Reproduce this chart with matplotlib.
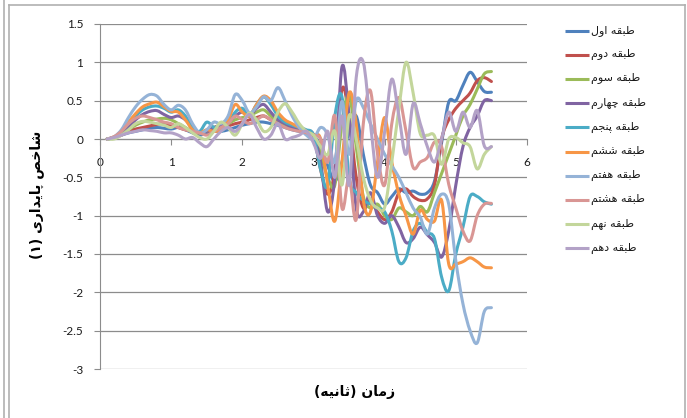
import numpy as np
import matplotlib
matplotlib.use("Agg")
import matplotlib.pyplot as plt
from matplotlib.path import Path
from matplotlib.patches import PathPatch
from matplotlib.lines import Line2D
from matplotlib import font_manager
from matplotlib.ft2font import FT2Font

# ---------------------------------------------
# داده ها: زمان (ثانیه) و شاخص پایداری هر طبقه
# ---------------------------------------------
zaman = [round(0.1 * k, 1) for k in range(1, 56)]

tabaghe_1 = [0.0, 0.02, 0.05, 0.08, 0.1, 0.12, 0.14, 0.15, 0.14, 0.13,
             0.15, 0.12, 0.08, 0.05, 0.08, 0.1, 0.1, 0.12, 0.15, 0.18,
             0.2, 0.22, 0.22, 0.2, 0.18, 0.15, 0.12, 0.1, 0.08, 0.05,
             -0.1, -0.35, -0.55, -0.3, 0.1, 0.3, -0.2, -0.6, -0.7, -0.85,
             -0.75, -0.65, -0.7, -0.68, -0.72, -0.7, -0.55, -0.05, 0.48, 0.5,
             0.7, 0.87, 0.75, 0.62, 0.61]
tabaghe_2 = [0.0, 0.02, 0.05, 0.1, 0.13, 0.15, 0.17, 0.19, 0.2, 0.18,
             0.15, 0.12, 0.1, 0.08, 0.1, 0.12, 0.15, 0.17, 0.2, 0.22,
             0.25, 0.28, 0.3, 0.25, 0.2, 0.18, 0.15, 0.12, 0.1, 0.05,
             -0.4, -0.72, -0.4, 0.65, 0.3, -0.5, -0.9, -0.8, -0.95, -1.05,
             -0.95, -0.7, -0.65, -0.75, -0.8, -0.78, -0.6, 0.0, 0.25, 0.4,
             0.5, 0.6, 0.76, 0.8, 0.75]
tabaghe_3 = [0.0, 0.02, 0.06, 0.12, 0.18, 0.22, 0.25, 0.26, 0.27, 0.25,
             0.2, 0.15, 0.1, 0.08, 0.1, 0.15, 0.18, 0.2, 0.25, 0.28,
             0.3, 0.35, 0.38, 0.3, 0.22, 0.18, 0.15, 0.12, 0.1, 0.05,
             -0.2, -0.5, -0.6, 0.2, 0.58, -0.1, -0.75, -0.9, -0.85, -1.0,
             -1.05, -0.9, -0.95, -1.0, -0.88, -0.95, -0.7, -0.45, -0.2, 0.05,
             0.3, 0.45, 0.65, 0.85, 0.88]
tabaghe_4 = [0.0, 0.02, 0.08, 0.15, 0.25, 0.32, 0.36, 0.37, 0.32, 0.28,
             0.3, 0.25, 0.15, 0.08, 0.1, 0.15, 0.18, 0.22, 0.3, 0.35,
             0.3, 0.4, 0.45, 0.35, 0.25, 0.2, 0.15, 0.12, 0.1, 0.05,
             -0.3, -0.95, -0.5, 0.94, 0.3, -0.9, -0.95, -0.7, -1.0, -1.1,
             -1.0, -1.15, -1.35, -1.3, -1.15, -1.25, -1.35, -1.54, -1.2, -0.6,
             -0.1, 0.15, 0.3, 0.5, 0.5]
tabaghe_5 = [0.0, 0.02, 0.1, 0.2, 0.3, 0.38, 0.42, 0.43, 0.4, 0.35,
             0.38, 0.3, 0.15, 0.1, 0.22, 0.15, 0.1, 0.2, 0.35, 0.4,
             0.3, 0.45, 0.55, 0.45, 0.3, 0.22, 0.18, 0.15, 0.12, 0.05,
             -0.4, -0.6, 0.3, 0.55, -0.5, -0.7, -0.8, -0.85, -0.9, -0.95,
             -1.2, -1.6, -1.55, -1.2, -1.1, -1.22, -1.3, -1.8, -1.98, -1.5,
             -1.15, -0.75, -0.75, -0.82, -0.85]
tabaghe_6 = [0.0, 0.03, 0.1, 0.22, 0.33, 0.42, 0.46, 0.48, 0.42, 0.36,
             0.35, 0.25, 0.12, 0.08, 0.12, 0.1, 0.12, 0.25, 0.45, 0.35,
             0.3, 0.45, 0.56, 0.5, 0.35, 0.25, 0.2, 0.15, 0.1, 0.05,
             0.0, -0.6, -1.07, -0.3, 0.6, 0.2, -0.8, -0.95, -0.3, 0.28,
             -0.3, -0.72, -1.0, -1.24, -0.93, -1.05, -1.07, -0.8, -1.63, -1.63,
             -1.6, -1.55, -1.6, -1.67, -1.68]
tabaghe_7 = [0.0, 0.03, 0.12, 0.28, 0.42, 0.52, 0.58, 0.56, 0.45, 0.38,
             0.44, 0.38, 0.2, 0.08, 0.12, 0.22, 0.2, 0.3, 0.58, 0.5,
             0.34, 0.42, 0.55, 0.5, 0.67, 0.5, 0.3, 0.15, 0.05, 0.0,
             0.15, 0.05, -0.3, 0.49, -0.2, 0.5, 0.41, 0.2, 0.0, -0.2,
             -0.35, -0.5, -0.7, -0.9, -1.02, -1.24, -0.9, -0.72, -0.85, -1.59,
             -2.15, -2.5, -2.66, -2.25, -2.2]
tabaghe_8 = [0.0, 0.03, 0.1, 0.2, 0.27, 0.3, 0.28, 0.25, 0.22, 0.2,
             0.15, 0.12, 0.1, 0.08, 0.05, 0.1, 0.15, 0.2, 0.3, 0.25,
             0.2, 0.25, 0.3, 0.25, 0.2, 0.15, 0.12, 0.1, 0.08, 0.05,
             0.0, -0.3, 0.3, -0.9, -0.5, -1.05, 0.2, 0.63, -0.2, -0.6,
             0.2, 0.54, 0.1, -0.37, -0.3, -0.24, -0.04, -0.1, -0.59, -0.9,
             -1.2, -1.33, -1.0, -0.85, -0.84]
tabaghe_9 = [0.0, 0.0, 0.05, 0.12, 0.2, 0.23, 0.22, 0.2, 0.18, 0.15,
             0.2, 0.15, 0.08, 0.02, 0.0, 0.1, 0.22, 0.15, 0.05, 0.2,
             0.34, 0.25, 0.1, 0.15, 0.35, 0.46, 0.35, 0.2, 0.1, 0.05,
             -0.1, -0.2, 0.1, -0.6, 0.3, 0.0, -0.5, -0.8, -0.9, -0.89,
             -0.3, 0.4, 1.0, 0.6, 0.07, 0.05, 0.04, -0.33, 0.0, 0.02,
             -0.05, -0.1, -0.39, -0.2, -0.1]
tabaghe_10 = [0.0, 0.02, 0.05, 0.08, 0.1, 0.12, 0.11, 0.1, 0.08, 0.08,
              0.05, 0.0, 0.02, -0.05, -0.1, 0.0, 0.1, 0.15, 0.1, 0.2,
              0.32, 0.15, 0.0, 0.05, 0.2, 0.0, 0.02, 0.05, 0.1, -0.05,
              -0.25, 0.1, -0.5, 0.3, -0.6, 0.8, 1.0, 0.2, -0.5, 0.1,
              0.78, 0.3, -0.2, 0.46, 0.2, -0.1, -0.3, 0.0, 0.35, 0.1,
              0.35, 0.15, 0.37, -0.09, -0.1]

namha = ["طبقه اول", "طبقه دوم", "طبقه سوم", "طبقه چهارم", "طبقه پنجم",
         "طبقه ششم", "طبقه هفتم", "طبقه هشتم", "طبقه نهم", "طبقه دهم"]
rangha = ["#4F81BD", "#C0504D", "#9BBB59", "#8064A2", "#4BACC6",
          "#F79646", "#95B3D7", "#D99694", "#C3D69B", "#B3A2C7"]
seri = [tabaghe_1, tabaghe_2, tabaghe_3, tabaghe_4, tabaghe_5,
        tabaghe_6, tabaghe_7, tabaghe_8, tabaghe_9, tabaghe_10]

y_ticks = [1.5, 1, 0.5, 0, -0.5, -1, -1.5, -2, -2.5, -3]
x_ticks = [0, 1, 2, 3, 4, 5, 6]

# ---------------------------------------------
# شکل دادن حروف فارسی و راست به چپ کردن متن
# (matplotlib خودش اتصال حروف را انجام نمی دهد)
# ---------------------------------------------
FORMS = {
    'ا': ('\uFE8D', '\uFE8E', None, None),
    'ب': ('\uFE8F', '\uFE90', '\uFE91', '\uFE92'),
    'پ': ('\uFB56', '\uFB57', '\uFB58', '\uFB59'),
    'ت': ('\uFE95', '\uFE96', '\uFE97', '\uFE98'),
    'ث': ('\uFE99', '\uFE9A', '\uFE9B', '\uFE9C'),
    'ج': ('\uFE9D', '\uFE9E', '\uFE9F', '\uFEA0'),
    'چ': ('\uFB7A', '\uFB7B', '\uFB7C', '\uFB7D'),
    'خ': ('\uFEA5', '\uFEA6', '\uFEA7', '\uFEA8'),
    'د': ('\uFEA9', '\uFEAA', None, None),
    'ر': ('\uFEAD', '\uFEAE', None, None),
    'ز': ('\uFEAF', '\uFEB0', None, None),
    'س': ('\uFEB1', '\uFEB2', '\uFEB3', '\uFEB4'),
    'ش': ('\uFEB5', '\uFEB6', '\uFEB7', '\uFEB8'),
    'ص': ('\uFEB9', '\uFEBA', '\uFEBB', '\uFEBC'),
    'ط': ('\uFEC1', '\uFEC2', '\uFEC3', '\uFEC4'),
    'ف': ('\uFED1', '\uFED2', '\uFED3', '\uFED4'),
    'ق': ('\uFED5', '\uFED6', '\uFED7', '\uFED8'),
    'ل': ('\uFEDD', '\uFEDE', '\uFEDF', '\uFEE0'),
    'م': ('\uFEE1', '\uFEE2', '\uFEE3', '\uFEE4'),
    'ن': ('\uFEE5', '\uFEE6', '\uFEE7', '\uFEE8'),
    'ه': ('\uFEE9', '\uFEEA', '\uFEEB', '\uFEEC'),
    'و': ('\uFEED', '\uFEEE', None, None),
    'ی': ('\uFBFC', '\uFBFD', '\uFBFE', '\uFBFF'),
}
MIRROR = {'(': ')', ')': '('}


def farsi(text):
    out = []
    for i, ch in enumerate(text):
        if ch not in FORMS:
            out.append(MIRROR.get(ch, ch))
            continue
        prev_j = i > 0 and text[i - 1] in FORMS and FORMS[text[i - 1]][2] is not None
        next_j = (i < len(text) - 1 and text[i + 1] in FORMS
                  and FORMS[ch][2] is not None)
        iso, fin, ini, med = FORMS[ch]
        if prev_j and next_j:
            out.append(med)
        elif prev_j:
            out.append(fin)
        elif next_j:
            out.append(ini)
        else:
            out.append(iso)
    return ''.join(reversed(out))


def has_glyphs(weight, text):
    path = font_manager.findfont(font_manager.FontProperties(family='DejaVu Sans',
                                                             weight=weight))
    f = FT2Font(path)
    return all(f.get_char_index(ord(c)) != 0 for c in text if c != ' ')


# ---------------------------------------------
# خط نرم (مثل خط smooth اکسل) با منحنی بزیه
# ---------------------------------------------
def smooth_path(xs, ys):
    p = np.column_stack([xs, ys])
    n = len(p)
    verts = [p[0]]
    codes = [Path.MOVETO]
    for i in range(n - 1):
        p0 = p[i - 1] if i > 0 else p[i]
        p3 = p[i + 2] if i + 2 < n else p[i + 1]
        c1 = p[i] + (p[i + 1] - p0) / 6.0
        c2 = p[i + 1] - (p3 - p[i]) / 6.0
        verts += [c1, c2, p[i + 1]]
        codes += [Path.CURVE4] * 3
    return Path(verts, codes)


# ---------------------------------------------
# رسم
# ---------------------------------------------
W, H = 687, 418
fig = plt.figure(figsize=(W / 100, H / 100), dpi=100)
ax = fig.add_axes([100 / W, 1 - 369 / H, 427 / W, 345 / H])

ax.set_xlim(0, 6)
ax.set_ylim(-3, 1.5)

for s, c in zip(seri, rangha):
    ax.add_patch(PathPatch(smooth_path(zaman, s), fill=False, edgecolor=c,
                           lw=2.2, capstyle='round', joinstyle='round', zorder=3))

ax.set_yticks(y_ticks)
ax.set_yticklabels([f"{v:g}" for v in y_ticks])
ax.set_xticks(x_ticks)
ax.grid(axis='y', color='#8c8c8c', lw=0.9)
ax.set_axisbelow(True)

for side in ['top', 'right']:
    ax.spines[side].set_visible(False)
ax.spines['left'].set_color('#8c8c8c')
ax.spines['bottom'].set_position(('data', 0))
ax.spines['bottom'].set_color('#8c8c8c')
ax.tick_params(axis='y', length=4, color='#8c8c8c', pad=8,
               labelsize=8.5, labelcolor='#1a1a1a')
ax.tick_params(axis='x', direction='out', length=4, color='#8c8c8c', pad=9,
               labelsize=8.5, labelcolor='#1a1a1a')
for lbl in ax.get_xticklabels() + ax.get_yticklabels():
    lbl.set_family('Lato')

# عنوان محورها
x_title = farsi("زمان (ثانیه)")
y_title = farsi("شاخص پایداری (۱)")
fig.text(355 / W, 1 - 392 / H, x_title, ha='center', va='center', fontsize=10,
         fontweight='bold' if has_glyphs('bold', x_title) else 'normal',
         family='DejaVu Sans')
fig.text(37 / W, 1 - 195 / H, y_title, ha='center', va='center', rotation=90,
         fontsize=10, fontweight='bold' if has_glyphs('bold', y_title) else 'normal',
         family='DejaVu Sans')

# راهنما
for i, (nam, c) in enumerate(zip(namha, rangha)):
    yy = 1 - (30.5 + 24.2 * i) / H
    fig.add_artist(Line2D([565 / W, 589 / W], [yy, yy], color=c, lw=2.2,
                          solid_capstyle='butt'))
    fig.text(591 / W, yy, farsi(nam), ha='left', va='center', fontsize=8,
             family='DejaVu Sans', color='#1a1a1a')

# کادر دور نمودار
kadr = '#b0b0b0'
fig.add_artist(Line2D([9 / W, 9 / W], [0, 1 - 5 / H], color=kadr, lw=1.2))
fig.add_artist(Line2D([9 / W, 685 / W], [1 - 5 / H, 1 - 5 / H], color=kadr, lw=1.2))
fig.add_artist(Line2D([685 / W, 685 / W], [0, 1 - 5 / H], color=kadr, lw=1.2))
fig.add_artist(Line2D([4 / W, 4 / W], [0, 1], color=kadr, lw=1.2))

fig.savefig("out.png", dpi=100)
